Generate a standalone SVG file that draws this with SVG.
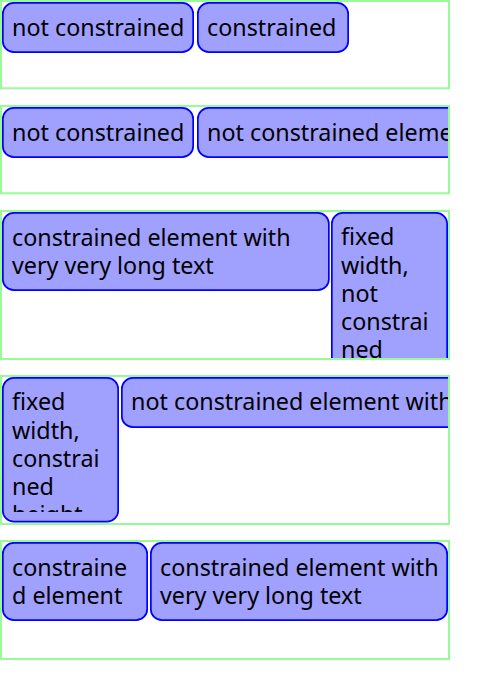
<svg xmlns="http://www.w3.org/2000/svg" width="480" height="675" viewBox="0 0 480 675">
<style>
.box{fill:#fff;stroke:#98fb98;stroke-width:2}
.n{fill:#a0a0ff;stroke:#0000ff;stroke-width:1.7}
text{font-family:"Noto Sans","Open Sans",sans-serif;font-size:23.3px;fill:#000}
</style>
<defs>
<clipPath id="c2"><rect x="2" y="107" width="446" height="86"/></clipPath>
<clipPath id="c3"><rect x="2" y="212" width="446" height="146"/></clipPath>
<clipPath id="c4"><rect x="2" y="377" width="446" height="146"/></clipPath>
<clipPath id="t41"><rect x="2" y="377" width="117" height="135"/></clipPath>
</defs>
<rect width="480" height="675" fill="#fff"/>

<g id="container1">
<rect class="box" x="1" y="1" width="448" height="87.3"/>
<g id="node1a"><rect class="n" x="2.85" y="2.85" width="190.3" height="49.3" rx="11"/><text x="12" y="35.7">not constrained</text></g>
<g id="node1b"><rect class="n" x="197.85" y="2.85" width="150.3" height="49.3" rx="11"/><text x="207" y="35.7">constrained</text></g>
</g>

<g id="container2">
<rect class="box" x="1" y="106" width="448" height="87.3"/>
<g id="node2a"><rect class="n" x="2.85" y="107.85" width="190.3" height="49.3" rx="11"/><text x="12" y="140.7">not constrained</text></g>
<g id="node2b" clip-path="url(#c2)"><rect class="n" x="197.85" y="107.85" width="400" height="49.3" rx="11"/><text x="207" y="140.7">not constrained element</text></g>
</g>

<g id="container3">
<rect class="box" x="1" y="211" width="448" height="148"/>
<g id="node3a"><rect class="n" x="2.85" y="212.85" width="326" height="77.3" rx="11"/><text x="12" y="245.7">constrained element with</text><text x="12" y="273.9">very very long text</text></g>
<g id="node3b" clip-path="url(#c3)"><rect class="n" x="331.85" y="212.85" width="115.3" height="200" rx="11"/>
<text x="341"><tspan x="341" y="245.3">fixed</tspan><tspan x="341" y="273.5">width,</tspan><tspan x="341" y="301.7">not</tspan><tspan x="341" y="329.9">constrai</tspan><tspan x="341" y="357.5">ned</tspan></text></g>
</g>

<g id="container4">
<rect class="box" x="1" y="376" width="448" height="148"/>
<g id="node4a"><rect class="n" x="2.85" y="377.85" width="115.3" height="143.8" rx="11"/>
<text x="12" clip-path="url(#t41)"><tspan x="12" y="410.3">fixed</tspan><tspan x="12" y="438.5">width,</tspan><tspan x="12" y="466.7">constrai</tspan><tspan x="12" y="494.9">ned</tspan><tspan x="12" y="523.1">height</tspan></text></g>
<g id="node4b" clip-path="url(#c4)"><rect class="n" x="121.85" y="377.85" width="400" height="49.3" rx="11"/><text x="131" y="410.3">not constrained element with</text></g>
</g>

<g id="container5">
<rect class="box" x="1" y="541" width="448" height="118"/>
<g id="node5a"><rect class="n" x="2.85" y="542.85" width="144.3" height="77.3" rx="11"/><text x="12" y="575.7">constraine</text><text x="12" y="603.6">d element</text></g>
<g id="node5b"><rect class="n" x="150.85" y="542.85" width="296.3" height="77.3" rx="11"/><text x="160" y="575.7">constrained element with</text><text x="160" y="603.6">very very long text</text></g>
</g>
</svg>
